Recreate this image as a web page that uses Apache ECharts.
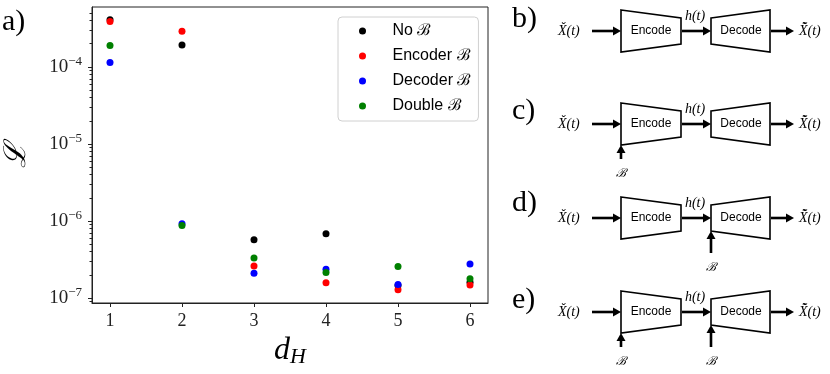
<!DOCTYPE html>
<html>
<head>
<meta charset="utf-8">
<script src="https://cdn.jsdelivr.net/npm/echarts@6/dist/echarts.min.js"></script>
<style>
  html, body { margin: 0; padding: 0; background: #fff; }
  #chart { width: 830px; height: 374px; }
</style>
</head>
<body>
<div id="chart"></div>
<script>
// d_H values on the x axis
const dimH = [1, 2, 3, 4, 5, 6];
// loss per model
const noB      = [4.1e-4, 1.93e-4, 5.7e-7, 6.8e-7, 1.45e-7, 1.6e-7];
const encoderB = [3.9e-4, 2.9e-4, 2.6e-7, 1.58e-7, 1.28e-7, 1.47e-7];
const decoderB = [1.14e-4, 9.2e-7, 2.1e-7, 2.36e-7, 1.49e-7, 2.75e-7];
const doubleB  = [1.9e-4, 8.7e-7, 3.3e-7, 2.14e-7, 2.57e-7, 1.77e-7];
const seriesNames = ['No ℬ', 'Encoder ℬ', 'Decoder ℬ', 'Double ℬ'];
const seriesColors = ['#000000', '#ff0000', '#0000ff', '#008000'];
// tick labels
const yMajor = [1e-7, 1e-6, 1e-5, 1e-4];
const yMinor = [];
[1e-8, 1e-7, 1e-6, 1e-5, 1e-4].forEach(function (d) {
    for (let k = 2; k <= 9; k++) yMinor.push(k * d);
});

const yMin = 8.6e-8, yMax = 6.0e-4;
const serif = 'Liberation Serif';

function pairs(ys) {
    return dimH.map(function (x, i) { return [x, ys[i]]; });
}

// block diagrams b) - e)
function diagram(cy, encB, decB) {
    const els = [];
    const lw = 1.6;
    // trapezoids
    els.push({ type: 'polygon', shape: { points: [[621, cy - 21], [681, cy - 13], [681, cy + 13], [621, cy + 21]] },
        style: { fill: '#fff', stroke: '#000', lineWidth: lw } });
    els.push({ type: 'polygon', shape: { points: [[711, cy - 13], [770, cy - 21], [770, cy + 21], [711, cy + 13]] },
        style: { fill: '#fff', stroke: '#000', lineWidth: lw } });
    els.push({ type: 'text', x: 651, y: cy, style: { text: 'Encode', font: '12px "Liberation Sans"', fill: '#000', align: 'center', verticalAlign: 'middle' } });
    els.push({ type: 'text', x: 741, y: cy, style: { text: 'Decode', font: '12px "Liberation Sans"', fill: '#000', align: 'center', verticalAlign: 'middle' } });
    function hArrow(x1, x2) {
        els.push({ type: 'line', shape: { x1: x1, y1: cy, x2: x2 - 7, y2: cy }, style: { stroke: '#000', lineWidth: 2.6 } });
        els.push({ type: 'polygon', shape: { points: [[x2 - 8, cy - 4.5], [x2, cy], [x2 - 8, cy + 4.5]] }, style: { fill: '#000' } });
    }
    function vArrow(x, y1, y2) {
        els.push({ type: 'line', shape: { x1: x, y1: y1, x2: x, y2: y2 + 7 }, style: { stroke: '#000', lineWidth: 2.6 } });
        els.push({ type: 'polygon', shape: { points: [[x - 4.5, y2 + 8], [x, y2], [x + 4.5, y2 + 8]] }, style: { fill: '#000' } });
        els.push({ type: 'text', x: x, y: cy + 50, style: { text: 'ℬ', font: 'italic 12px "DejaVu Serif"', fill: '#000', align: 'center', verticalAlign: 'middle' } });
    }
    hArrow(592, 621);
    hArrow(682, 711);
    hArrow(771, 794);
    els.push({ type: 'text', x: 558, y: cy, style: { text: 'X̌(t)', font: 'italic 14px "Liberation Serif"', fill: '#000', verticalAlign: 'middle' } });
    els.push({ type: 'text', x: 695, y: cy - 15, style: { text: 'h(t)', font: 'italic 14px "Liberation Serif"', fill: '#000', align: 'center', verticalAlign: 'middle' } });
    els.push({ type: 'text', x: 799, y: cy, style: { text: 'X̌̃(t)', font: 'italic 14px "Liberation Serif"', fill: '#000', verticalAlign: 'middle' } });
    if (encB) vArrow(621, cy + 35, cy + 21);
    if (decB) vArrow(711, cy + 35, cy + 13);
    return els;
}

const panelLabels = [['a)', 2, 22], ['b)', 512, 19], ['c)', 512, 111], ['d)', 512, 203], ['e)', 512, 300]];
let graphics = panelLabels.map(function (p) {
    return { type: 'text', x: p[1], y: p[2], style: { text: p[0], font: '30px "Liberation Serif"', fill: '#000', verticalAlign: 'middle' } };
});
graphics = graphics.concat(diagram(31, false, false), diagram(124, true, false), diagram(218, false, true), diagram(312, true, true));

const chart = echarts.init(document.getElementById('chart'));
chart.setOption({
    animation: false,
    backgroundColor: '#fff',
    grid: {
        left: 92, top: 7, right: 342, bottom: 71,
        show: true, borderColor: '#222', borderWidth: 1,
        outerBoundsMode: 'none'
    },
    legend: {
        orient: 'vertical',
        left: 338, top: 17,
        icon: 'circle',
        itemWidth: 40, itemHeight: 7, itemGap: 7,
        padding: [5, 8, 6, 21],
        borderColor: '#d0d0d0', borderWidth: 1, borderRadius: 4,
        backgroundColor: 'rgba(255,255,255,0.8)',
        textStyle: { fontFamily: 'Liberation Sans', fontSize: 16, lineHeight: 18, color: '#000', padding: [0, 0, 0, 5] },
        data: seriesNames
    },
    xAxis: {
        type: 'value', min: 0.75, max: 6.25,
        name: '{d|d}{h|H}', nameLocation: 'middle', nameGap: 31,
        nameTextStyle: { rich: {
            d: { fontFamily: serif, fontStyle: 'italic', fontSize: 32, color: '#000' },
            h: { fontFamily: serif, fontStyle: 'italic', fontSize: 22, color: '#000', padding: [12, 0, 0, 0] }
        } },
        axisLine: { show: true, onZero: false, lineStyle: { color: '#222', width: 1 } },
        axisTick: { show: true, customValues: dimH, length: 4, lineStyle: { color: '#222' } },
        axisLabel: { customValues: dimH, margin: 9, fontFamily: serif, fontSize: 18, color: '#222' },
        splitLine: { show: false }
    },
    yAxis: [{
        type: 'log', logBase: 10, min: yMin, max: yMax,
        name: 'ℒ', nameLocation: 'middle', nameGap: 60, nameRotate: 90,
        nameTextStyle: { fontFamily: 'DejaVu Serif', fontStyle: 'italic', fontSize: 30, color: '#000' },
        axisLine: { show: true, lineStyle: { color: '#222', width: 1 } },
        axisTick: { show: true, customValues: yMajor, length: 4, lineStyle: { color: '#222' } },
        axisLabel: {
            customValues: yMajor, margin: 10,
            formatter: function (v) {
                const e = Math.round(Math.log10(v));
                return '{b|10}{s|\u2212' + (-e) + '}';
            },
            rich: {
                b: { fontFamily: serif, fontSize: 19, color: '#222' },
                s: { fontFamily: serif, fontSize: 13, color: '#222', padding: [0, 0, 10, 0] }
            }
        },
        splitLine: { show: false }
    }, {
        type: 'log', logBase: 10, min: yMin, max: yMax, position: 'left',
        axisLine: { show: false },
        axisTick: { show: true, customValues: yMinor, length: 2.5, lineStyle: { color: '#222' } },
        axisLabel: { show: false },
        splitLine: { show: false }
    }],
    series: [noB, encoderB, decoderB, doubleB].map(function (ys, i) {
        return {
            name: seriesNames[i], type: 'scatter', yAxisIndex: 0,
            symbolSize: 7,
            itemStyle: { color: seriesColors[i], opacity: 1 },
            data: pairs(ys)
        };
    }),
    graphic: graphics
});
</script>
</body>
</html>
